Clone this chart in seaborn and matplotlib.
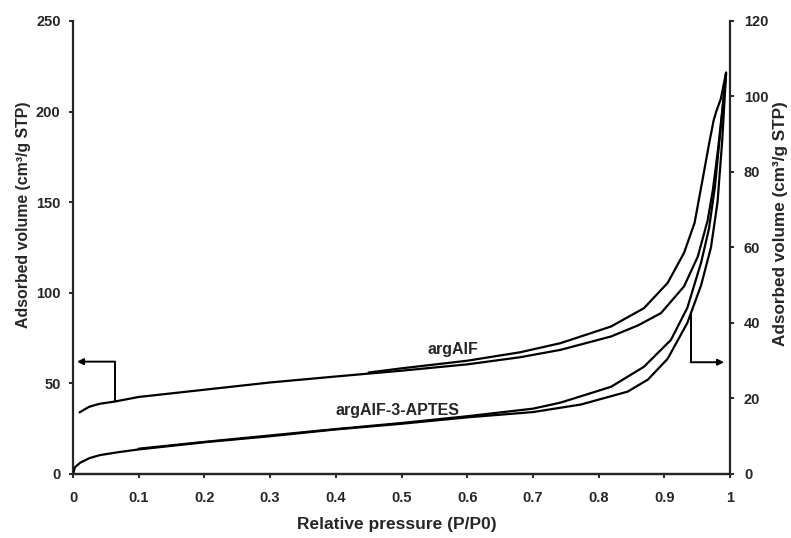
import numpy as np
import matplotlib
matplotlib.use("Agg")
import matplotlib.pyplot as plt
import pandas as pd
import seaborn as sns

# argAlF isotherm (left axis)
alf_ads_p = [0.01, 0.024, 0.04, 0.064, 0.10, 0.20, 0.30, 0.40, 0.50, 0.60, 0.68, 0.742, 0.819, 0.86, 0.895, 0.93, 0.951, 0.966, 0.974, 0.982, 0.988, 0.994]
alf_ads_v = [34, 37, 38.7, 40, 42.5, 46.5, 50.5, 53.8, 57, 60.5, 64.4, 68.5, 75.9, 82, 88.8, 103.5, 120, 140, 157, 180, 200, 221.5]
alf_des_p = [0.994, 0.986, 0.979, 0.975, 0.968, 0.958, 0.946, 0.930, 0.905, 0.869, 0.819, 0.742, 0.681, 0.60, 0.50, 0.45]
alf_des_v = [221.5, 207, 200, 195, 182, 162, 138.5, 122, 105.4, 91.5, 81.4, 72.2, 67.2, 62.5, 58.3, 56]

# argAlF-3-APTES isotherm (right axis)
aptes_ads_p = [0.0, 0.003, 0.011, 0.025, 0.041, 0.07, 0.10, 0.20, 0.30, 0.40, 0.50, 0.60, 0.70, 0.773, 0.844, 0.875, 0.905, 0.935, 0.956, 0.971, 0.981, 0.988, 0.994]
aptes_ads_v = [0, 1.8, 3.0, 4.2, 5.0, 5.8, 6.5, 8.4, 10.0, 11.8, 13.3, 15.0, 16.4, 18.4, 21.8, 25.0, 30.5, 40, 50, 60, 72, 88, 106]
aptes_des_p = [0.994, 0.986, 0.977, 0.968, 0.956, 0.935, 0.91, 0.869, 0.819, 0.742, 0.70, 0.60, 0.50, 0.40, 0.30, 0.20, 0.10]
aptes_des_v = [106, 92, 76, 65, 56, 44, 35.5, 28.4, 23.1, 18.9, 17.3, 15.3, 13.5, 11.9, 10.2, 8.5, 6.7]

x_ticks = [0, 0.1, 0.2, 0.3, 0.4, 0.5, 0.6, 0.7, 0.8, 0.9, 1]
x_ticklabels = ["0", "0.1", "0.2", "0.3", "0.4", "0.5", "0.6", "0.7", "0.8", "0.9", "1"]
left_ticks = [0, 50, 100, 150, 200, 250]
right_ticks = [0, 20, 40, 60, 80, 100, 120]

# arrow paths (start of line, corner, tip)
left_arrow = [(0.064, 40), (0.064, 62), (0.006, 62)]
right_arrow = [(0.94, 42.4), (0.94, 29.6), (0.991, 29.6)]

sns.set_style("ticks")
plt.rcParams['font.family'] = ['Liberation Sans', 'DejaVu Sans']
plt.rcParams['font.weight'] = 'bold'

fig = plt.figure(figsize=(7.91, 5.38), dpi=100)
ax = fig.add_axes([0.0923, 0.119, 0.8306, 0.842])
ax2 = ax.twinx()

lw = 1.6
sns.lineplot(x=alf_ads_p, y=alf_ads_v, sort=False, estimator=None, color="black", lw=lw, ax=ax)
sns.lineplot(x=alf_des_p, y=alf_des_v, sort=False, estimator=None, color="black", lw=lw, ax=ax)
sns.lineplot(x=aptes_ads_p, y=aptes_ads_v, sort=False, estimator=None, color="black", lw=lw, ax=ax2)
sns.lineplot(x=aptes_des_p, y=aptes_des_v, sort=False, estimator=None, color="black", lw=lw, ax=ax2)

ax.set_xlim(0, 1)
ax.set_ylim(0, 250)
ax2.set_ylim(0, 120)
ax.set_xticks(x_ticks)
ax.set_xticklabels(x_ticklabels)
ax.set_yticks(left_ticks)
ax2.set_yticks(right_ticks)

for a in (ax, ax2):
    a.spines['top'].set_visible(False)
    for s in a.spines.values():
        s.set_linewidth(1.6)
    a.tick_params(width=1.4, length=3, labelsize=10.5)
ax.spines['right'].set_visible(False)
ax2.spines['left'].set_visible(False)
ax.tick_params(axis='x', pad=9)
ax.tick_params(axis='y', pad=6)
ax2.tick_params(axis='y', pad=7)
for lab in ax.get_xticklabels() + ax.get_yticklabels() + ax2.get_yticklabels():
    lab.set_fontweight('bold')

ax.set_xlabel("Relative pressure (P/P0)", fontsize=12.5, fontweight='bold')
ax.xaxis.set_label_coords(0.493, -0.095)
ax.set_ylabel("Adsorbed volume (cm³/g STP)", fontsize=11.4, fontweight='bold')
ax.yaxis.set_label_coords(-0.064, 0.572)
ax2.set_ylabel("Adsorbed volume (cm³/g STP)", fontsize=12.3, fontweight='bold')
ax2.yaxis.set_label_coords(1.066, 0.552)

ax.text(0.578, 68.5, "argAlF", fontsize=11.5, fontweight='bold', ha='center', va='center')
ax.text(0.494, 34.8, "argAlF-3-APTES", fontsize=11.5, fontweight='bold', ha='center', va='center')

# arrows pointing to each curve's axis
ax.plot([left_arrow[0][0], left_arrow[1][0]], [left_arrow[0][1], left_arrow[1][1]], color="black", lw=1.4)
ax.annotate("", xy=left_arrow[2], xytext=left_arrow[1],
            arrowprops=dict(arrowstyle="-|>", color="black", lw=1.4, mutation_scale=9, shrinkA=0, shrinkB=0))
ax2.plot([right_arrow[0][0], right_arrow[1][0]], [right_arrow[0][1], right_arrow[1][1]], color="black", lw=1.4)
ax2.annotate("", xy=right_arrow[2], xytext=right_arrow[1],
             arrowprops=dict(arrowstyle="-|>", color="black", lw=1.4, mutation_scale=9, shrinkA=0, shrinkB=0))

fig.savefig("out.png", dpi=100)
